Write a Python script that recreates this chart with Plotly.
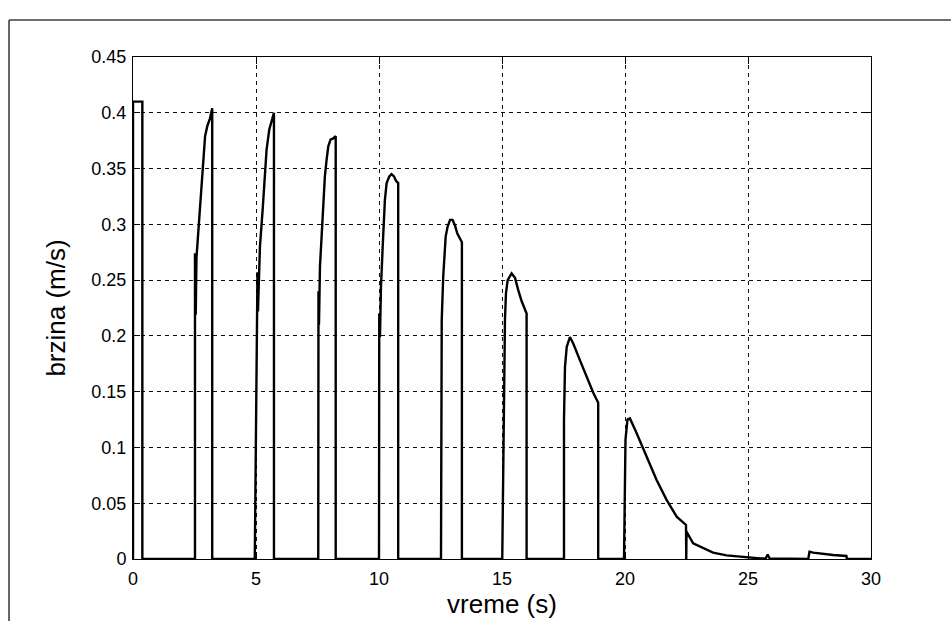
import plotly.graph_objects as go

# time (s) and speed (m/s)
t = [0.0, 0.0, 0.38, 0.38,
     2.52, 2.52, 2.55, 2.58, 2.65, 2.72, 2.79, 2.86, 2.93, 3.02, 3.13, 3.22, 3.22,
     4.95, 5.03, 5.06, 5.08, 5.16, 5.27, 5.37, 5.43, 5.54, 5.63, 5.73, 5.73,
     7.53, 7.54, 7.56, 7.60, 7.67, 7.74, 7.80, 7.87, 7.94, 8.03, 8.14, 8.24, 8.24,
     10.0, 10.01, 10.04, 10.08, 10.15, 10.20, 10.24, 10.31, 10.42, 10.51, 10.61, 10.69, 10.78, 10.78,
     12.52, 12.55, 12.61, 12.71, 12.79, 12.89, 12.99, 13.09, 13.18, 13.37, 13.37,
     15.01, 15.08, 15.12, 15.16, 15.23, 15.39, 15.53, 15.66, 15.80, 16.00, 16.00,
     17.52, 17.52, 17.56, 17.63, 17.76, 17.90, 18.17, 18.44, 18.71, 18.91, 18.91,
     19.96, 19.98, 20.02, 20.10, 20.20, 20.47, 20.88, 21.28, 21.69, 22.10, 22.48, 22.49,
     22.50, 22.77, 23.25, 23.58, 24.13, 24.67, 25.00, 25.50, 25.72, 25.80, 25.88, 26.20,
     27.45, 27.50, 27.65, 28.46, 29.00, 29.02, 30.0]
v = [0.0, 0.41, 0.41, 0.0,
     0.0, 0.274, 0.219, 0.27, 0.292, 0.316, 0.343, 0.358, 0.379, 0.388, 0.395, 0.404, 0.0,
     0.0, 0.212, 0.257, 0.222, 0.28, 0.313, 0.349, 0.367, 0.385, 0.392, 0.40, 0.0,
     0.0, 0.24, 0.21, 0.262, 0.292, 0.322, 0.343, 0.358, 0.37, 0.376, 0.377, 0.379, 0.0,
     0.0, 0.22, 0.199, 0.244, 0.28, 0.304, 0.322, 0.337, 0.343, 0.345, 0.343, 0.339, 0.337, 0.0,
     0.0, 0.214, 0.253, 0.289, 0.298, 0.304, 0.304, 0.299, 0.292, 0.284, 0.0,
     0.0, 0.174, 0.214, 0.238, 0.25, 0.256, 0.252, 0.241, 0.231, 0.22, 0.0,
     0.0, 0.125, 0.172, 0.19, 0.199, 0.193, 0.178, 0.163, 0.149, 0.14, 0.0,
     0.0, 0.065, 0.107, 0.125, 0.126, 0.113, 0.092, 0.071, 0.053, 0.038, 0.0305, 0.0,
     0.0245, 0.014, 0.0087, 0.0057, 0.0033, 0.002, 0.0015, 0.0005, 0.0005, 0.004, 0.0005, 0.0003,
     0.0, 0.0066, 0.0057, 0.0036, 0.0027, 0.0, 0.0]

x_ticks = [0, 5, 10, 15, 20, 25, 30]
y_ticks = [0, 0.05, 0.1, 0.15, 0.2, 0.25, 0.3, 0.35, 0.4, 0.45]
y_labels = ["0", "0.05", "0.1", "0.15", "0.2", "0.25", "0.3", "0.35", "0.4", "0.45"]

fig = go.Figure()
fig.add_trace(go.Scatter(x=t, y=v, mode="lines",
                         line=dict(color="black", width=2.4),
                         showlegend=False))

font = "Liberation Sans, Arial, Helvetica, sans-serif"
axis_common = dict(showline=True, linecolor="black", linewidth=1, mirror="ticks",
                   ticks="inside", ticklen=7, tickcolor="black", tickwidth=1,
                   showgrid=True, gridcolor="#111111", gridwidth=1, griddash="4px,4px",
                   zeroline=False, automargin=False,
                   tickfont=dict(family=font, size=18, color="black"))

fig.update_xaxes(range=[0, 30], tickvals=x_ticks, ticktext=[str(x) for x in x_ticks],
                 ticklabelstandoff=3,
                 title=dict(text="vreme (s)", font=dict(family=font, size=26, color="black"),
                            standoff=4),
                 **axis_common)
fig.update_yaxes(range=[0, 0.45], tickvals=y_ticks, ticktext=y_labels,
                 ticklabelstandoff=2,
                 title=dict(text="brzina (m/s)", font=dict(family=font, size=26, color="black"),
                            standoff=18),
                 **axis_common)

fig.update_layout(width=951, height=621,
                  margin=dict(l=133, r=80, t=57, b=62),
                  paper_bgcolor="white", plot_bgcolor="white",
                  shapes=[
                      dict(type="line", xref="paper", yref="paper",
                           x0=-0.168, x1=1.11, y0=1.0737, y1=1.0737,
                           line=dict(color="#6e6e6e", width=2)),
                      dict(type="line", xref="paper", yref="paper",
                           x0=-0.168, x1=-0.168, y0=1.0737, y1=-0.13,
                           line=dict(color="#333333", width=1.5)),
                  ])

fig.write_html("out.html")
